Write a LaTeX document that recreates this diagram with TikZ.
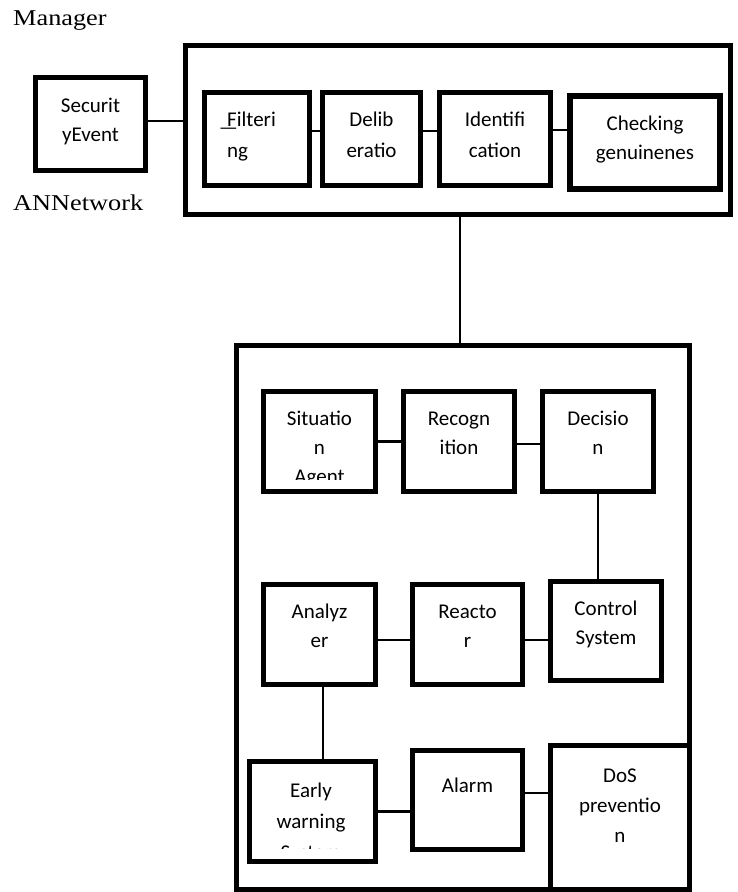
\documentclass[tikz,border=0pt]{standalone}
\usepackage{graphicx}
\usepackage{fontspec}
\setmainfont{Liberation Serif}
\newfontfamily\boxfont{Carlito}
\begin{document}
\begin{tikzpicture}[x=1pt,y=-1pt,
  box/.style={draw, line width=5pt, fill=white, inner sep=0pt, rectangle},
  lnk/.style={line width=2.2pt},
  txt/.style={font=\boxfont\fontsize{21}{#1}\selectfont, align=center, inner sep=0pt, anchor=base},
  txt/.default=30,
  lbl/.style={font=\fontsize{26.3}{30}\selectfont, inner sep=0pt, anchor=base west}]
\useasboundingbox (0,0) rectangle (737,892);

% ---------- top group ----------
\node[lbl] (mgr) at (13,25) {\scalebox{1}[0.86]{Manager}};
\node[lbl] (ann) at (13,210) {\scalebox{1}[0.86]{ANNetwork}};

\node[box, minimum width=545pt, minimum height=169pt] (top) at (458,130) {};
\node[box, minimum width=110pt, minimum height=93pt] (sec) at (90.5,124) {};
\node[box, minimum width=105pt, minimum height=93pt] (filt) at (257,139) {};
\node[box, minimum width=98pt, minimum height=93pt] (delib) at (371.5,139) {};
\node[box, minimum width=111pt, minimum height=93pt] (ident) at (495,139) {};
\node[box, line width=6pt, minimum width=150pt, minimum height=93pt] (check) at (645,142.5) {};

% (base anchor of a multi-line node = baseline of its last line)
\node[txt=29] (tsec) at (90.5,141) {Securit\\yEvent};
\node[txt=31, anchor=base west, align=left] (tfilt) at (227,157)
  {\makebox[0pt][r]{\scalebox{1.5}[1]{\_}\kern-9pt}Filteri\\ng};
\node[txt=31] (tdelib) at (371.5,157) {Delib\\eratio};
\node[txt=31] (tident) at (495,157) {Identifi\\cation};
\node[txt=29] (tcheck) at (645,159) {Checking\\genuinenes};

\draw[lnk] ([yshift=3pt]sec.east) -- ([yshift=3pt]sec.east -| top.west);
\draw[lnk] ([yshift=8pt]filt.east) -- ([yshift=8pt]delib.west);
\draw[lnk] ([yshift=8pt]delib.east) -- ([yshift=8pt]ident.west);
\draw[lnk] ([yshift=9pt]ident.east) -- ([yshift=9pt]ident.east -| check.west);

% ---------- lower group ----------
\node[box, minimum width=453pt, minimum height=544pt] (low) at (463,617.5) {};
\draw[lnk] ([xshift=2pt]top.south) -- ([xshift=2pt]top.south |- low.north);

\node[box, minimum width=112pt, minimum height=100pt] (sit) at (319.5,441.5) {};
\node[box, minimum width=111pt, minimum height=100pt] (rec) at (459,441.5) {};
\node[box, minimum width=111pt, minimum height=100pt] (dec) at (598,441.5) {};
\node[box, minimum width=112pt, minimum height=100pt] (ana) at (319.5,634.5) {};
\node[box, minimum width=110pt, minimum height=100pt] (rea) at (467.5,634.5) {};
\node[box, minimum width=111pt, minimum height=99pt] (ctl) at (606,631) {};
\node[box, minimum width=126pt, minimum height=100pt] (early) at (312.5,811.5) {};
\node[box, minimum width=110pt, minimum height=99pt] (alarm) at (467.5,800) {};
\node[box, minimum width=139pt, minimum height=144pt] (dos) at (620,817.5) {};

\begin{scope}
  \clip (250,380) rectangle (390,479);
  \node[txt=29] (tsit) at (319.5,483) {Situatio\\n\\Agent};
\end{scope}
\node[txt=29] (trec) at (459,454) {Recogn\\ition};
\node[txt=29] (tdec) at (598,454) {Decisio\\n};
\node[txt=29] (tana) at (319.5,647) {Analyz\\er};
\node[txt=29] (trea) at (467.5,647) {Reacto\\r};
\node[txt=29] (tctl) at (606,644) {Control\\System};
\begin{scope}
  \clip (240,750) rectangle (390,848);
  \node[txt=31] (tearly) at (311,859) {Early\\warning\\System};
\end{scope}
\node[txt] (talarm) at (467.5,792) {Alarm};
\node[txt=30] (tdos) at (620,842) {DoS\\preventio\\n};

\draw[lnk] (sit.east) -- (rec.west);
\draw[lnk] ([yshift=-2.5pt]rec.east) -- ([yshift=-2.5pt]dec.west);
\draw[lnk] (dec.south) -- (dec.south |- ctl.north);
\draw[lnk] ([yshift=-5.5pt]ana.east) -- ([yshift=-5.5pt]rea.west);
\draw[lnk] ([yshift=-5.5pt]rea.east) -- ([yshift=-5.5pt]rea.east -| ctl.west);
\draw[lnk] ([xshift=3.5pt]ana.south) -- ([xshift=3.5pt]ana.south |- early.north);
\draw[lnk] (early.east) -- (early.east -| alarm.west);
\draw[lnk] ([yshift=7pt]alarm.east) -- ([yshift=7pt]alarm.east -| dos.west);
\end{tikzpicture}
\end{document}
